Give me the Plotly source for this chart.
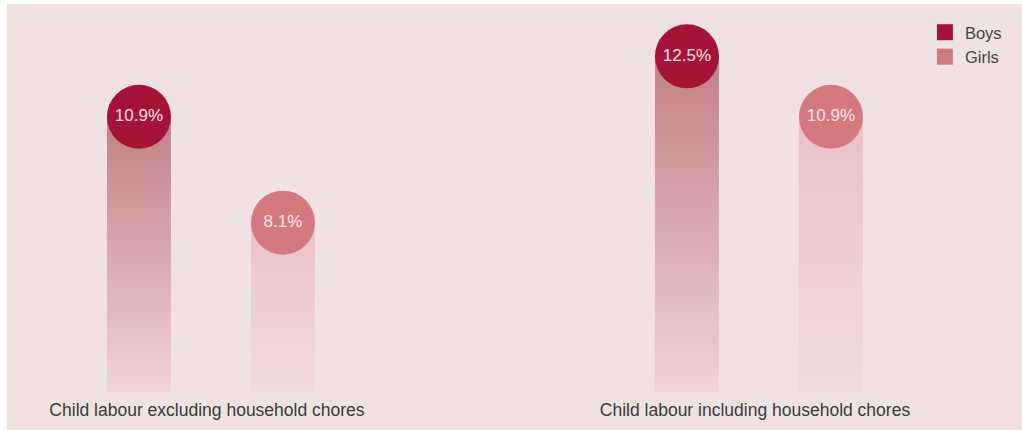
import plotly.graph_objects as go

# --- data ---------------------------------------------------------------
categories = [
    "Child labour excluding household chores",
    "Child labour including household chores",
]
series_names = ["Boys", "Girls"]
boys = [10.9, 12.5]
girls = [8.1, 10.9]

# --- styling ------------------------------------------------------------
BG = "#f0e2e1"
FONT = "Liberation Sans, Arial, Helvetica, sans-serif"
DOT_COLORS = {"Boys": "#a51338", "Girls": "#d47a7f"}
LABEL_COLORS = {"Boys": "#f6e1e5", "Girls": "#fbe6e6"}
# bar gradients: (bottom colour, top colour)
BAR_GRADIENTS = {
    "Boys": ("#f0d3d6", "#c37f88"),
    "Girls": ("#f1dbdc", "#ebc2c5"),
}
OFFSETS = {"Boys": -0.1314, "Girls": 0.1314}
HALF_W = 0.0584
Y_FLOOR = 3.62
Y_TOP = 13.99

fig = go.Figure()

values = {"Boys": boys, "Girls": girls}
group_x = list(range(len(categories)))

# fading columns under each dot
for name in series_names:
    bottom_col, top_col = BAR_GRADIENTS[name]
    for gx, v in zip(group_x, values[name]):
        cx = gx + OFFSETS[name]
        fig.add_trace(go.Scatter(
            x=[cx - HALF_W, cx - HALF_W, cx + HALF_W, cx + HALF_W, cx - HALF_W],
            y=[Y_FLOOR, v, v, Y_FLOOR, Y_FLOOR],
            mode="lines",
            line=dict(width=0),
            fill="toself",
            fillgradient=dict(
                type="vertical",
                colorscale=[[0, bottom_col], [1, top_col]],
                start=Y_FLOOR,
                stop=v,
            ),
            hoverinfo="skip",
            showlegend=False,
        ))

# value dots with labels
for name in series_names:
    fig.add_trace(go.Scatter(
        x=[gx + OFFSETS[name] for gx in group_x],
        y=values[name],
        mode="markers+text",
        marker=dict(size=64, color=DOT_COLORS[name], line=dict(width=0)),
        text=[f"{v}%" for v in values[name]],
        textposition="middle center",
        textfont=dict(family=FONT, size=17, color=LABEL_COLORS[name]),
        hoverinfo="skip",
        showlegend=False,
    ))

# legend entries
for name in series_names:
    fig.add_trace(go.Scatter(
        x=[None], y=[None],
        mode="markers",
        marker=dict(symbol="square", size=17, color=DOT_COLORS[name]),
        name=name,
        legendgroup=name,
    ))

fig.update_layout(
    width=1022,
    height=430,
    margin=dict(l=0, r=0, t=0, b=38),
    paper_bgcolor=BG,
    plot_bgcolor=BG,
    font=dict(family=FONT),
    showlegend=True,
    legend=dict(
        x=0.905, xanchor="left",
        y=1 - 15 / 392, yanchor="top",
        bgcolor="rgba(0,0,0,0)",
        font=dict(family=FONT, size=16.5, color="#444444"),
        tracegroupgap=7,
        traceorder="normal",
    ),
    xaxis=dict(
        range=[-0.385, 1.48],
        tickvals=group_x,
        ticktext=categories,
        tickfont=dict(family=FONT, size=17.5, color="#3b3b3b"),
        ticklabelshift=-4,
        ticklabelstandoff=5,
        showgrid=False,
        zeroline=False,
        showline=False,
        ticks="",
        fixedrange=True,
    ),
    yaxis=dict(
        range=[Y_FLOOR, Y_TOP],
        visible=False,
        fixedrange=True,
    ),
    shapes=[
        # thin white frame on the left and top edges
        dict(type="rect", xref="paper", yref="paper",
             x0=-0.01, x1=7 / 1022, y0=-0.2, y1=1.2,
             fillcolor="white", line=dict(width=0), layer="above"),
        dict(type="rect", xref="paper", yref="paper",
             x0=-0.01, x1=1.01, y0=1 - 4 / 392, y1=1.2,
             fillcolor="white", line=dict(width=0), layer="above"),
    ],
)

fig.write_html("out.html")
